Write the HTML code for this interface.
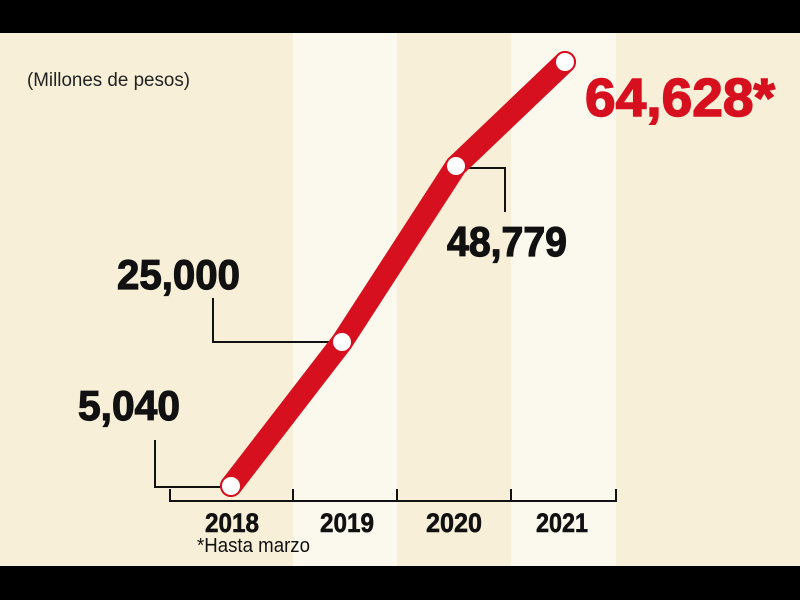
<!DOCTYPE html>
<html><head><style>
body{margin:0;width:800px;height:600px;overflow:hidden;background:#000}
svg{display:block}
</style></head><body>
<svg width="800" height="600" xmlns="http://www.w3.org/2000/svg" font-family="Liberation Sans, sans-serif">
<rect x="0" y="0" width="800" height="600" fill="#000"/>
<rect x="0" y="33" width="800" height="533" fill="#f7efd8"/>
<rect x="293" y="33" width="104" height="533" fill="#fbf9ee"/>
<rect x="511" y="33" width="105" height="533" fill="#fbf9ee"/>
<text x="27" y="86" font-size="19" fill="#222" textLength="163" lengthAdjust="spacingAndGlyphs">(Millones de pesos)</text>
<g stroke="#111" stroke-width="2" fill="none">
<path d="M170 489 V501 H616 V489 M293 489 V501 M397 489 V501 M511 489 V501"/>
<path d="M155 440 V487 H222"/>
<path d="M213 298 V342 H332"/>
<path d="M465 168 H505 V212"/>
</g>
<polyline points="231,486 342,342 456,166 565,62" fill="none" stroke="#d7101f" stroke-width="22" stroke-linejoin="round" stroke-linecap="round"/>
<g fill="#fff" stroke="#d7101f" stroke-width="2">
<circle cx="231" cy="486" r="10"/><circle cx="342" cy="342" r="10"/><circle cx="456" cy="166" r="10"/><circle cx="565" cy="62" r="10"/>
</g>
<g font-weight="bold" fill="#111" stroke="#111" stroke-width="1.2" font-size="42">
<text x="78" y="420" textLength="102" lengthAdjust="spacingAndGlyphs">5,040</text>
<text x="117" y="289" textLength="123" lengthAdjust="spacingAndGlyphs">25,000</text>
<text x="447" y="256" textLength="120" lengthAdjust="spacingAndGlyphs">48,779</text>
</g>
<text x="585" y="116" font-weight="bold" font-size="54" fill="#d7101f" stroke="#d7101f" stroke-width="1.5" textLength="190" lengthAdjust="spacingAndGlyphs">64,628*</text>
<g font-weight="bold" fill="#111" stroke="#111" stroke-width="0.6" font-size="27" text-anchor="middle">
<text x="232" y="532" textLength="54" lengthAdjust="spacingAndGlyphs">2018</text>
<text x="347" y="532" textLength="54" lengthAdjust="spacingAndGlyphs">2019</text>
<text x="454" y="532" textLength="56" lengthAdjust="spacingAndGlyphs">2020</text>
<text x="562" y="532" textLength="52" lengthAdjust="spacingAndGlyphs">2021</text>
</g>
<text x="197" y="552" font-size="20" fill="#111" textLength="113" lengthAdjust="spacingAndGlyphs">*Hasta marzo</text>
</svg>
</body></html>
